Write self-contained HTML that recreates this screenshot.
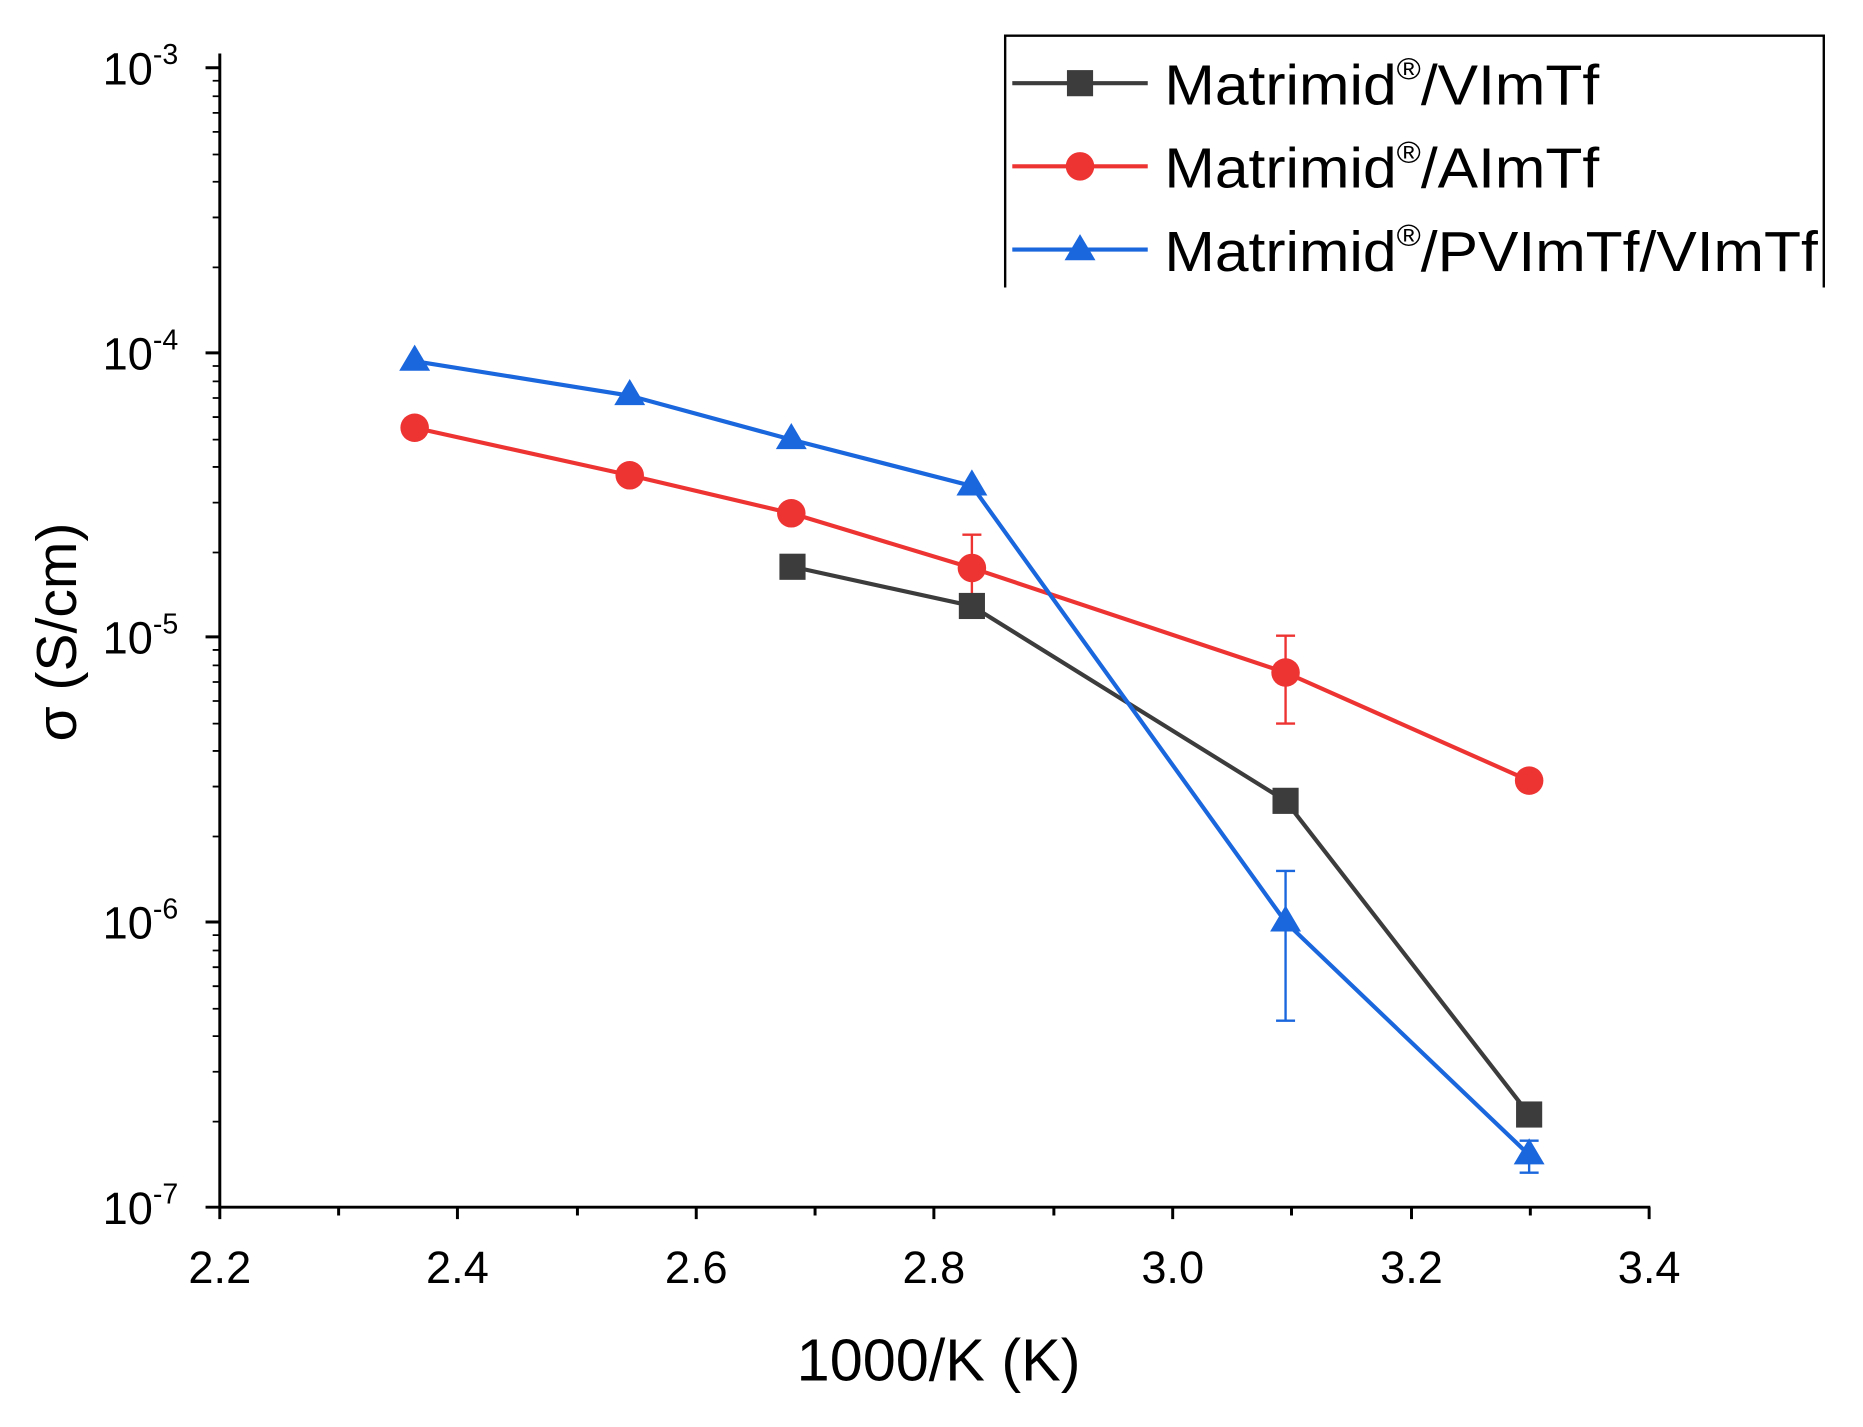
<!DOCTYPE html><html><head><style>html,body{margin:0;padding:0;background:#fff}svg{display:block}</style></head><body>
<svg width="1863" height="1427" viewBox="0 0 1568 1201" preserveAspectRatio="none" xmlns="http://www.w3.org/2000/svg" font-family="Liberation Sans, sans-serif">
<rect width="1568" height="1201" fill="#fff"/>
<g stroke="#000" stroke-width="2.5" fill="none">
<line x1="185" y1="45" x2="185" y2="1017"/>
<line x1="184" y1="1016" x2="1389" y2="1016"/>
<path d="M185,57h-12M185,297h-12M185,536h-12M185,776h-12M185,1016h-12"/>
<path d="M185,1016v10M285,1016v7M385,1016v10M486,1016v7M586,1016v10M686,1016v7M786,1016v10M887,1016v7M987,1016v10M1087,1016v7M1188,1016v10M1288,1016v7M1388,1016v10" />
</g>
<g stroke="#000" stroke-width="1.5">
<path d="M185,225h-6M185,183h-6M185,153h-6M185,130h-6M185,111h-6M185,95h-6M185,81h-6M185,68h-6
M185,465h-6M185,423h-6M185,393h-6M185,370h-6M185,351h-6M185,335h-6M185,321h-6M185,308h-6
M185,704h-6M185,662h-6M185,632h-6M185,609h-6M185,590h-6M185,574h-6M185,560h-6M185,547h-6
M185,944h-6M185,902h-6M185,872h-6M185,849h-6M185,830h-6M185,814h-6M185,800h-6M185,787h-6"/>
</g>
<g font-size="38" fill="#000" text-anchor="end">
<text x="150" y="71">10<tspan font-size="24" dy="-17">-3</tspan></text>
<text x="150" y="311">10<tspan font-size="24" dy="-17">-4</tspan></text>
<text x="150" y="550">10<tspan font-size="24" dy="-17">-5</tspan></text>
<text x="150" y="790">10<tspan font-size="24" dy="-17">-6</tspan></text>
<text x="150" y="1030">10<tspan font-size="24" dy="-17">-7</tspan></text>
</g>
<g font-size="38" fill="#000" text-anchor="middle">
<text x="185" y="1080">2.2</text><text x="385" y="1080">2.4</text><text x="586" y="1080">2.6</text><text x="786" y="1080">2.8</text><text x="987" y="1080">3.0</text><text x="1188" y="1080">3.2</text><text x="1388" y="1080">3.4</text>
<text x="790" y="1162" font-size="50">1000/K (K)</text>
<text transform="translate(64,532) rotate(-90)" font-size="48">σ (S/cm)</text>
</g>
<g stroke="#ee3333" stroke-width="2"><path d="M818,450v60M810,450h16M810,510h16M1082,535v74M1074,535h16M1074,609h16"/></g>
<g stroke="#1a66dd" stroke-width="2"><path d="M1082,733v126M1074,733h16M1074,859h16M1287,960v27M1279,960h16M1279,987h16"/></g>
<polyline points="667,477 818,510 1082,674 1287,938" fill="none" stroke="#3c3c3c" stroke-width="3.5"/>
<polyline points="349,360 530,400 666,432 818,478 1082,566 1287,657" fill="none" stroke="#ee3333" stroke-width="3.5"/>
<polyline points="349,304 530,333 666,370 818,409 1082,776 1287,972" fill="none" stroke="#1a66dd" stroke-width="3.5"/>
<g fill="#3c3c3c"><rect x="656" y="466" width="22" height="22"/><rect x="807" y="499" width="22" height="22"/><rect x="1071" y="663" width="22" height="22"/><rect x="1276" y="927" width="22" height="22"/></g>
<g fill="#ee3333"><circle cx="349" cy="360" r="12"/><circle cx="530" cy="400" r="12"/><circle cx="666" cy="432" r="12"/><circle cx="818" cy="478" r="12"/><circle cx="1082" cy="566" r="12"/><circle cx="1287" cy="657" r="12"/></g>
<g fill="#1a66dd"><path d="M349,290l13,22h-26z"/><path d="M530,319l13,22h-26z"/><path d="M666,356l13,22h-26z"/><path d="M818,395l13,22h-26z"/><path d="M1082,762l13,22h-26z"/><path d="M1287,958l13,22h-26z"/></g>
<path d="M846,242V30H1535V242" fill="none" stroke="#000" stroke-width="2"/>
<line x1="852" y1="70" x2="966" y2="70" stroke="#3c3c3c" stroke-width="3.5"/><rect x="898" y="59" width="22" height="22" fill="#3c3c3c"/>
<line x1="852" y1="140" x2="966" y2="140" stroke="#ee3333" stroke-width="3.5"/><circle cx="909" cy="140" r="12" fill="#ee3333"/>
<line x1="852" y1="210" x2="966" y2="210" stroke="#1a66dd" stroke-width="3.5"/><path d="M909,197l13,22h-26z" fill="#1a66dd"/>
<g font-size="48" fill="#000">
<text x="980" y="88" textLength="366" lengthAdjust="spacingAndGlyphs">Matrimid<tspan font-size="26" dy="-21">®</tspan><tspan dy="21">/VImTf</tspan></text>
<text x="980" y="158" textLength="366" lengthAdjust="spacingAndGlyphs">Matrimid<tspan font-size="26" dy="-21">®</tspan><tspan dy="21">/AImTf</tspan></text>
<text x="980" y="228" textLength="550" lengthAdjust="spacingAndGlyphs">Matrimid<tspan font-size="26" dy="-21">®</tspan><tspan dy="21">/PVImTf/VImTf</tspan></text>
</g>
</svg></body></html>
